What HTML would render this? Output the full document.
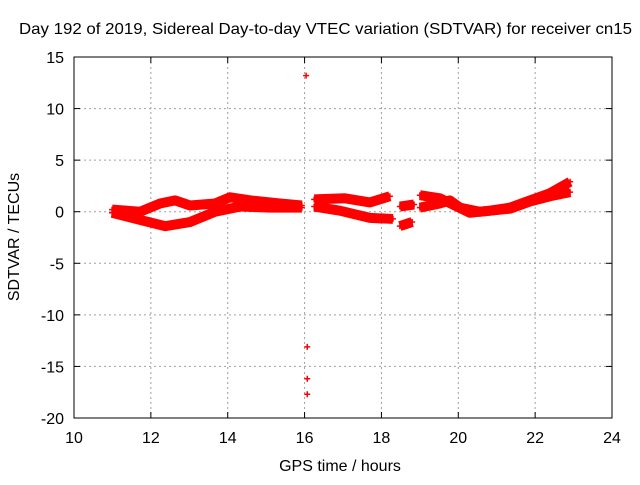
<!DOCTYPE html>
<html><head><meta charset="utf-8"><style>
body{margin:0;background:#fff}
svg text{font-family:"Liberation Sans",sans-serif;font-size:16px;fill:#000}
</style></head><body>
<svg id="chart" width="640" height="480">
<text x="19" y="34" textLength="613" lengthAdjust="spacingAndGlyphs">Day 192 of 2019, Sidereal Day-to-day VTEC variation (SDTVAR) for receiver cn15</text>
<text x="340" y="471" text-anchor="middle">GPS time / hours</text>
<text transform="translate(19,237) rotate(-90)" text-anchor="middle">SDTVAR / TECUs</text>
<g id="grid"></g><g id="marks"></g>
<rect x="74" y="57" width="538" height="361" fill="none" stroke="#000" stroke-width="1"/>
</svg>
<script>
const xTicks=[10,12,14,16,18,20,22,24];
const yTicks=[15,10,5,0,-5,-10,-15,-20];
const upperA_t=[10.99,11.72,12.24,12.63,13.02,13.67,14.06,14.58,15.36,15.93];
const upperA_v=[0.2,0.0,0.8,1.1,0.6,0.8,1.4,1.1,0.8,0.6];
const lowerA_t=[10.99,11.72,12.37,13.02,13.67,14.32,15.10,15.93];
const lowerA_v=[-0.1,-0.8,-1.4,-1.0,0.0,0.5,0.4,0.4];
const upperB_t=[16.25,17.05,17.70,18.22];
const upperB_v=[1.2,1.3,0.9,1.5];
const lowerB_t=[16.25,16.92,17.70,18.30];
const lowerB_v=[0.5,0.1,-0.6,-0.7];
const upperC_t=[18.48,18.85];
const upperC_v=[0.5,0.7];
const lowerC_t=[18.48,18.80];
const lowerC_v=[-1.4,-1.0];
const upperD_t=[19.0,19.52,19.91,20.30,20.82,21.35,21.87,22.39,22.91];
const upperD_v=[1.6,1.3,0.6,-0.1,0.1,0.4,1.1,1.8,2.9];
const lowerD_t=[19.0,19.52,19.78,20.04,20.56,21.35,21.87,22.39,22.91];
const lowerD_v=[0.4,0.8,1.1,0.4,0.0,0.3,1.0,1.5,1.9];
const outlier_t=[16.04,16.07,16.07,16.07];
const outlier_v=[13.2,-13.1,-16.2,-17.7];
const NS='http://www.w3.org/2000/svg';
const X0=74,X1=612,Y0=418,Y1=57;
function sx(t){return X0+(t-10)/(24-10)*(X1-X0);}
function sy(v){return Y0-(v+20)/(15+20)*(Y0-Y1);}
const grid=document.getElementById('grid'),marks=document.getElementById('marks'),svg=document.getElementById('chart');
function mk(tag,a,p){const e=document.createElementNS(NS,tag);for(const k in a)e.setAttribute(k,a[k]);p.appendChild(e);return e;}
xTicks.forEach(t=>{const x=sx(t);
 if(t>10&&t<24){const l=mk('line',{x1:x,x2:x,y1:Y1,y2:Y0,stroke:'#a0a0a0','stroke-dasharray':'2,3'},grid);
 
 }
 mk('line',{x1:x,x2:x,y1:Y0,y2:Y0-6,stroke:'#000'},grid);mk('line',{x1:x,x2:x,y1:Y1,y2:Y1+6,stroke:'#000'},grid);
 const tx=mk('text',{x:x,y:443,'text-anchor':'middle'},svg);tx.textContent=t;
 
 });
yTicks.forEach(v=>{const y=sy(v);
 if(v<15&&v>-20){const l=mk('line',{x1:X0,x2:X1,y1:y,y2:y,stroke:'#a0a0a0','stroke-dasharray':'2,3'},grid);
 
 }
 mk('line',{x1:X0,x2:X0+6,y1:y,y2:y,stroke:'#000'},grid);mk('line',{x1:X1,x2:X1-6,y1:y,y2:y,stroke:'#000'},grid);
 const tx=mk('text',{x:64,y:y+6,'text-anchor':'end'},svg);tx.textContent=v;
 
 });
function plus(t,v){const x=sx(t),y=sy(v);
 const p=mk('path',{d:`M${x-3},${y}h6M${x},${y-3}v6`,stroke:'#f00','stroke-width':1.5},marks);
 
 }
function band(ts,vs,name){const d=ts.map((t,i)=>(i?'L':'M')+sx(t)+','+sy(vs[i])).join('');
 const p=mk('path',{d:d,fill:'none',stroke:'#f00','stroke-width':10,'stroke-linejoin':'round'},marks);
 
 
 ts.forEach((t,i)=>plus(t,vs[i]));}
band(upperA_t,upperA_v,'band-upper-a');band(lowerA_t,lowerA_v,'band-lower-a');
band(upperB_t,upperB_v,'band-upper-b');band(lowerB_t,lowerB_v,'band-lower-b');
band(upperC_t,upperC_v,'band-upper-c');band(lowerC_t,lowerC_v,'band-lower-c');
band(upperD_t,upperD_v,'band-upper-d');band(lowerD_t,lowerD_v,'band-lower-d');
outlier_t.forEach((t,i)=>plus(t,outlier_v[i]));
</script>
</body></html>
